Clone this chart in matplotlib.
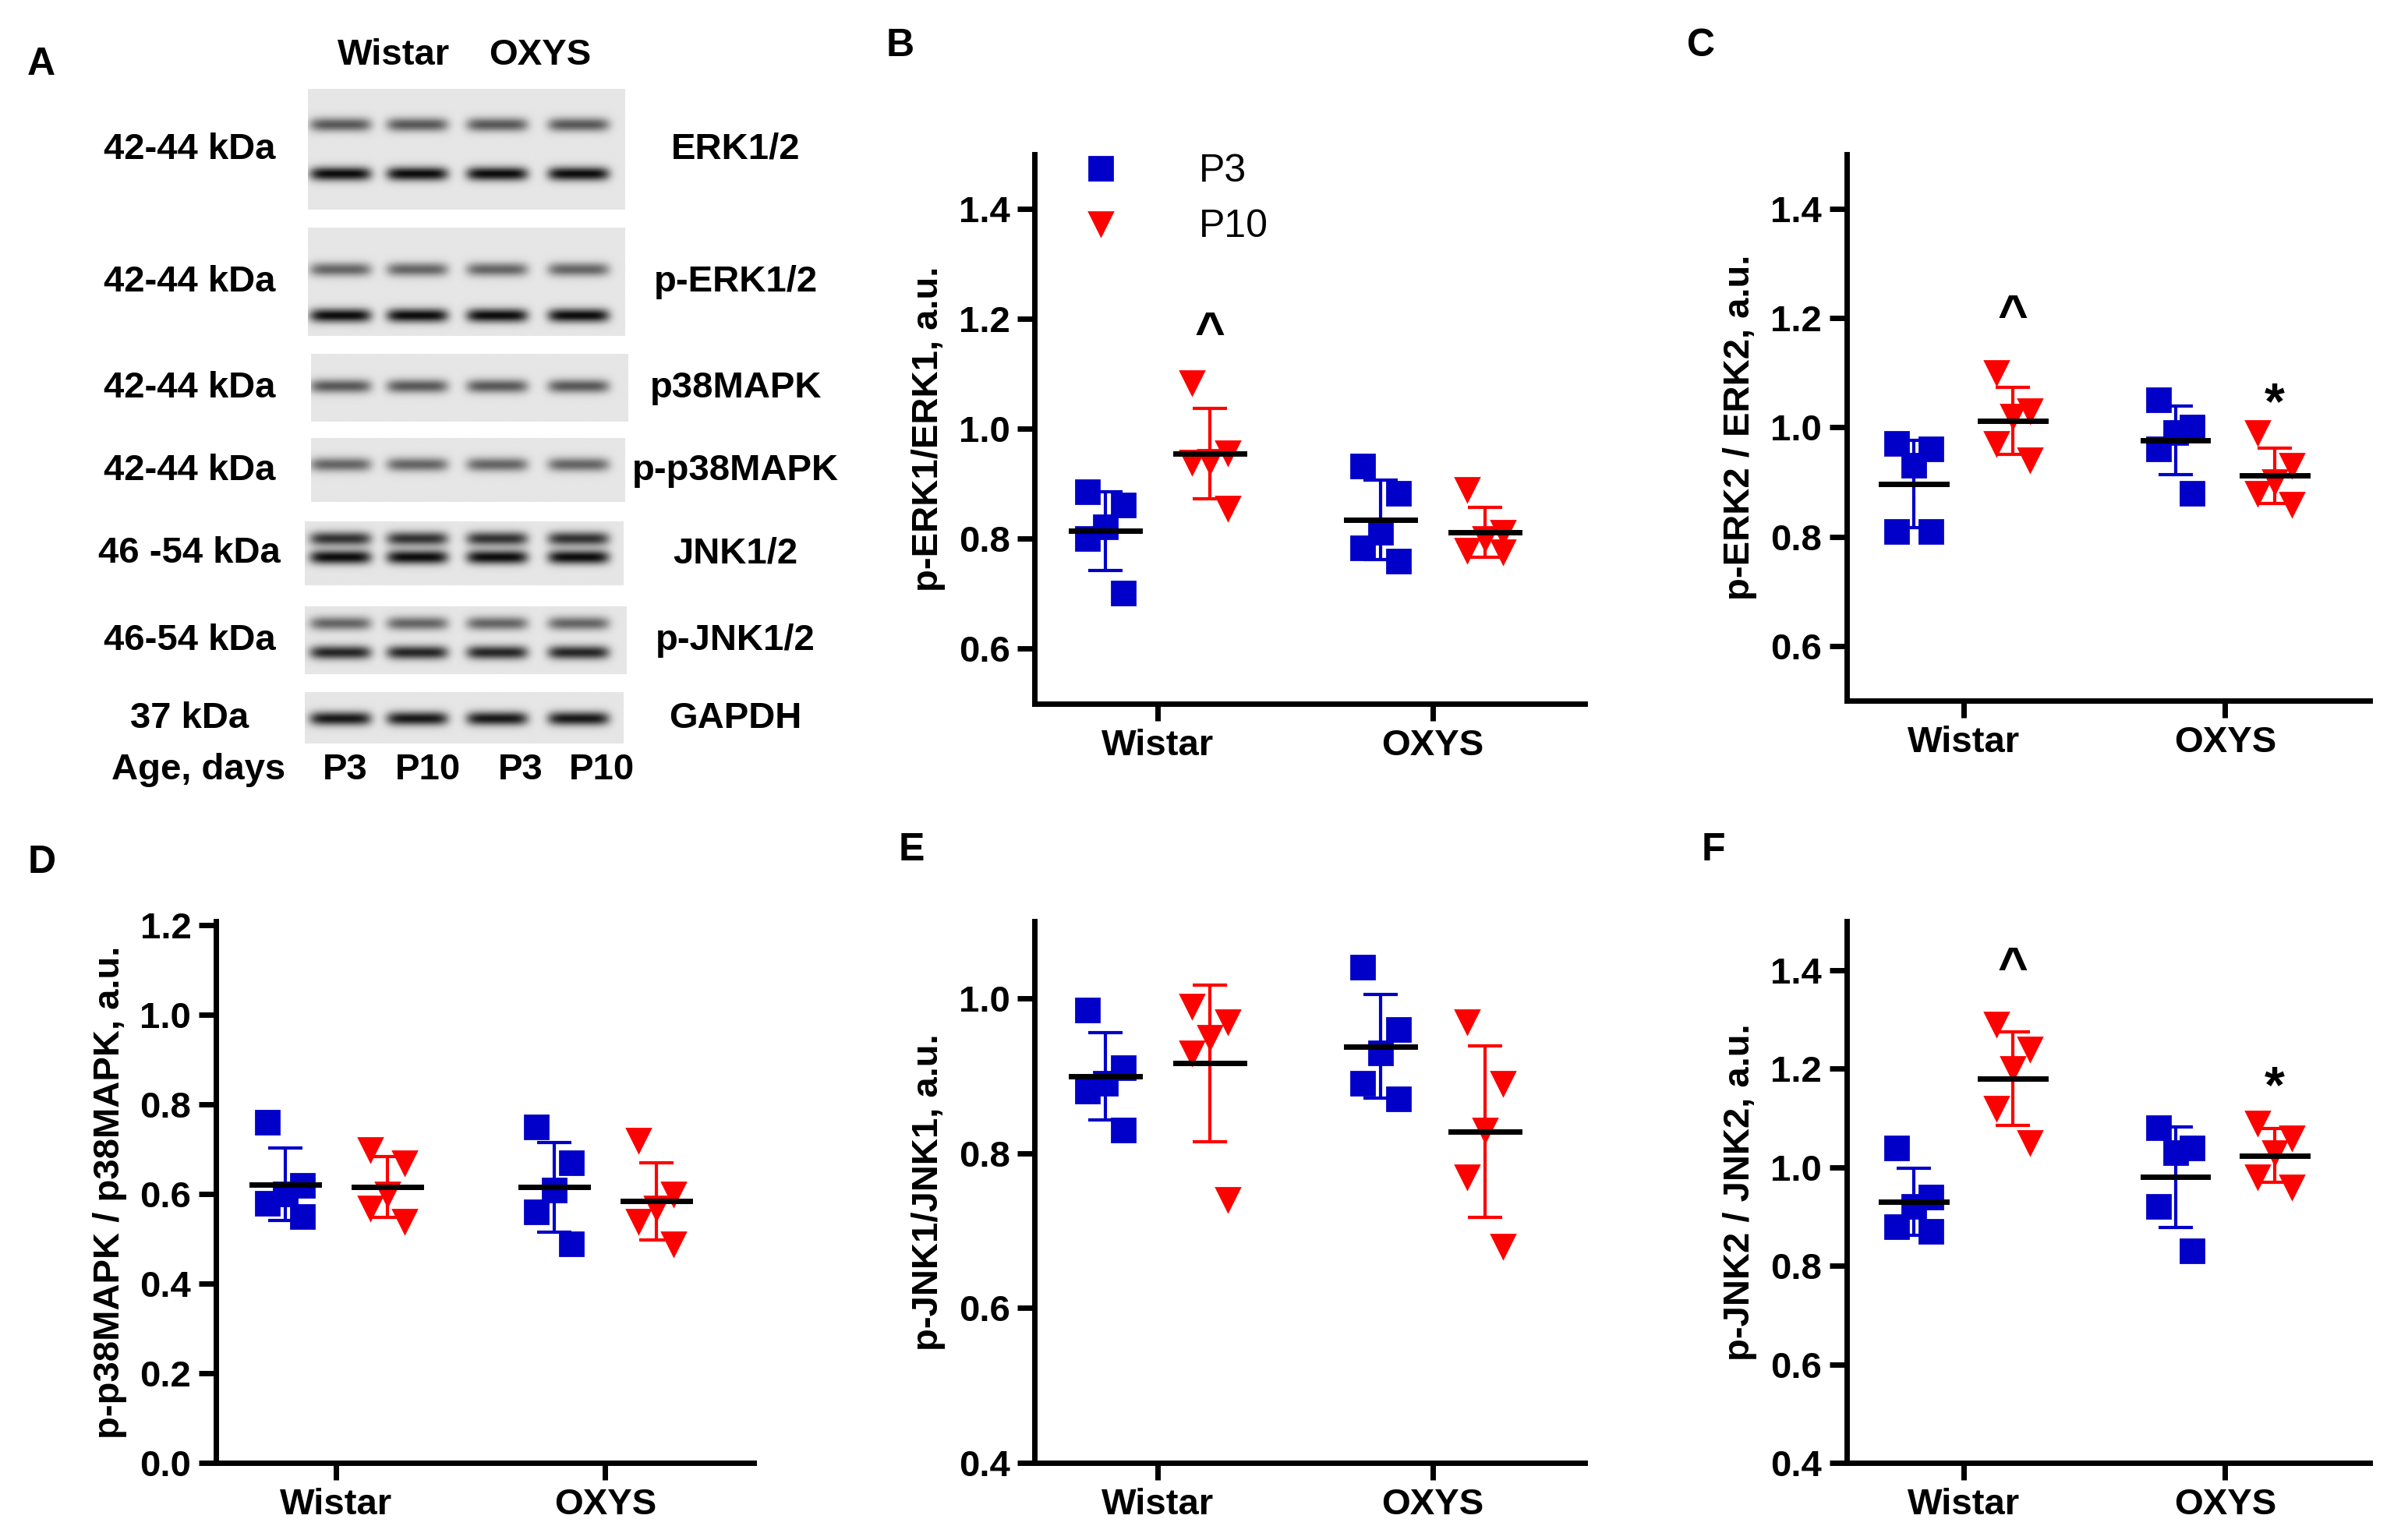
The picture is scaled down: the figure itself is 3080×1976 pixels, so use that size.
import numpy as np
import matplotlib
matplotlib.use("Agg")
import matplotlib.pyplot as plt
from matplotlib.lines import Line2D

plt.rcParams['font.family'] = ['Liberation Sans', 'DejaVu Sans']

# ── Dados ──────────────────────────────────────────────
groups = ["Wistar", "OXYS"]
ages = ["P3", "P10"]

erk1 = {"Wistar": ([0.886, 0.862, 0.822, 0.801, 0.701], [1.084, 0.957, 0.941, 0.939, 0.856]),
        "OXYS": ([0.933, 0.883, 0.812, 0.783, 0.759], [0.890, 0.812, 0.801, 0.780, 0.777])}
erk2 = {"Wistar": ([0.97, 0.96, 0.93, 0.81, 0.81], [1.10, 1.03, 1.02, 0.97, 0.94]),
        "OXYS": ([1.05, 1.00, 0.99, 0.96, 0.88], [0.99, 0.93, 0.90, 0.88, 0.86])}
p38 = {"Wistar": ([0.76, 0.62, 0.60, 0.58, 0.55], [0.70, 0.67, 0.60, 0.57, 0.54]),
       "OXYS": ([0.75, 0.67, 0.61, 0.56, 0.49], [0.72, 0.60, 0.57, 0.54, 0.49])}
jnk1 = {"Wistar": ([0.985, 0.91, 0.89, 0.88, 0.83], [0.99, 0.97, 0.95, 0.93, 0.74]),
        "OXYS": ([1.04, 0.96, 0.93, 0.89, 0.87], [0.97, 0.89, 0.83, 0.77, 0.68])}
jnk2 = {"Wistar": ([1.04, 0.94, 0.92, 0.88, 0.87], [1.29, 1.24, 1.20, 1.12, 1.05]),
        "OXYS": ([1.08, 1.04, 1.03, 0.92, 0.83], [1.09, 1.06, 1.03, 0.98, 0.96])}

blot_names = ["ERK1/2", "p-ERK1/2", "p38MAPK", "p-p38MAPK", "JNK1/2", "p-JNK1/2", "GAPDH"]
blot_kda = ["42-44 kDa", "42-44 kDa", "42-44 kDa", "42-44 kDa", "46 -54 kDa", "46-54 kDa", "37 kDa"]
lane_labels = ["P3", "P10", "P3", "P10"]

BLUE = "#0000C8"
RED = "#FF0000"
JIT = [-0.065, 0.065, 0.0, -0.065, 0.065]

fig = plt.figure(figsize=(15.4, 9.88), dpi=200)

# camada de fundo em "pixels" para o painel A e as letras
bg = fig.add_axes([0, 0, 1, 1])
bg.set_xlim(0, 1560)
bg.set_ylim(1000, 0)
bg.axis("off")

# ── Painel A (western blot) ──────────────────────────────
boxes = [(200, 406, 58, 136, [81, 113], [0.55, 0.85]),
         (200, 406, 148, 218, [175, 205], [0.5, 0.85]),
         (202, 408, 230, 274, [251], [0.55]),
         (202, 406, 285, 326, [302], [0.5]),
         (198, 405, 339, 380, [350, 362], [0.7, 0.85]),
         (198, 407, 394, 438, [405, 424], [0.5, 0.75]),
         (198, 405, 450, 483, [467], [0.8])]
lanes = [221, 271, 323, 376]
for (x0, x1, y0, y1, bands, dark), name, kda in zip(boxes, blot_names, blot_kda):
    xs = np.linspace(x0, x1, 300)
    ys = np.linspace(y0, y1, 120)
    X, Y = np.meshgrid(xs, ys)
    lane_env = sum(np.exp(-((X - lx) / 20.0) ** 6) for lx in lanes)
    img = np.full_like(X, 0.9)
    for b, d in zip(bands, dark):
        img -= d * lane_env * np.exp(-((Y - b) / 4.5) ** 2)
    img = np.clip(img, 0.05, 1)
    bg.imshow(img, cmap="gray", vmin=0, vmax=1, extent=(x0, x1, y1, y0), aspect="auto")
    yc = (y0 + y1) / 2
    bg.text(123, yc, kda, ha="center", va="center", fontsize=17, fontweight="bold")
    bg.text(478, yc, name, ha="center", va="center", fontsize=17, fontweight="bold")
bg.text(256, 36, "Wistar", ha="center", va="center", fontsize=17, fontweight="bold")
bg.text(351, 36, "OXYS", ha="center", va="center", fontsize=17, fontweight="bold")
bg.text(129, 500, "Age, days", ha="center", va="center", fontsize=17, fontweight="bold")
for lx, lab in zip([224, 278, 338, 391], lane_labels):
    bg.text(lx, 500, lab, ha="center", va="center", fontsize=17, fontweight="bold")

for lab, (lx, ly) in zip("ABCDEF", [(27, 42), (585, 30), (1105, 30), (27, 560), (592, 552), (1113, 552)]):
    bg.text(lx, ly, lab, ha="center", va="center", fontsize=18, fontweight="bold")


def scatter_panel(rect, data, ylabel, ylim, yticks, marks):
    ax = fig.add_axes(rect)
    for gi, g in enumerate(groups):
        for ai, (vals, col, mk) in enumerate(zip(data[g], [BLUE, RED], ["s", "v"])):
            vals = np.array(vals)
            xc = gi + (-0.19 if ai == 0 else 0.19)
            ax.plot(xc + np.array(JIT), vals, ls="none", marker=mk, color=col, ms=11, zorder=3)
            m, sd = vals.mean(), vals.std(ddof=1)
            ax.errorbar(xc, m, yerr=sd, color=col, lw=1.5, capsize=8, capthick=1.5, zorder=2)
            ax.plot([xc - 0.125, xc + 0.125], [m, m], color="black", lw=2.5, zorder=4)
    for (gi, ai, y, s) in marks:
        xc = gi + (-0.19 if ai == 0 else 0.19)
        ax.text(xc, y, s, ha="center", va="center", fontsize=24, fontweight="bold")
    ax.set_xlim(-0.447, 1.553)
    ax.set_ylim(*ylim)
    ax.set_yticks(yticks)
    ax.set_yticklabels([f"{t:.1f}" for t in yticks])
    ax.set_xticks([0, 1])
    ax.set_xticklabels(groups)
    for s in ["top", "right"]:
        ax.spines[s].set_visible(False)
    for s in ["left", "bottom"]:
        ax.spines[s].set_linewidth(2.5)
    ax.tick_params(width=2.5, length=8, labelsize=17)
    for t in ax.get_xticklabels() + ax.get_yticklabels():
        t.set_fontweight("bold")
    ax.set_ylabel(ylabel, fontsize=17, fontweight="bold", labelpad=6)
    return ax


axB = scatter_panel([0.431, 0.543, 0.229, 0.357], erk1, "p-ERK1/ERK1, a.u.", (0.5, 1.5),
                    [0.6, 0.8, 1.0, 1.2, 1.4], [(0, 1, 1.17, "^")])
axC = scatter_panel([0.769, 0.545, 0.218, 0.355], erk2, "p-ERK2 / ERK2, a.u.", (0.5, 1.5),
                    [0.6, 0.8, 1.0, 1.2, 1.4], [(0, 1, 1.2, "^"), (1, 1, 1.04, "*")])
scatter_panel([0.09, 0.05, 0.224, 0.352], p38, "p-p38MAPK / p38MAPK, a.u.", (0.0, 1.21),
              [0.0, 0.2, 0.4, 0.6, 0.8, 1.0, 1.2], [])
scatter_panel([0.431, 0.05, 0.229, 0.352], jnk1, "p-JNK1/JNK1, a.u.", (0.4, 1.1),
              [0.4, 0.6, 0.8, 1.0], [])
scatter_panel([0.769, 0.05, 0.218, 0.352], jnk2, "p-JNK2 / JNK2, a.u.", (0.4, 1.5),
              [0.4, 0.6, 0.8, 1.0, 1.2, 1.4], [(0, 1, 1.4, "^"), (1, 1, 1.16, "*")])

handles = [Line2D([], [], ls="none", marker="s", color=BLUE, ms=11),
           Line2D([], [], ls="none", marker="v", color=RED, ms=11)]
axB.legend(handles, ages, loc="upper left", bbox_to_anchor=(0.0, 1.05), frameon=False,
           fontsize=18, handletextpad=1.5, borderaxespad=0.3)

fig.savefig("out.png", dpi=200)
